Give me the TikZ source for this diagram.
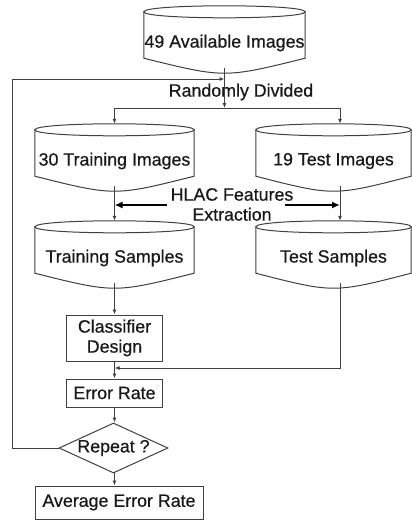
\documentclass[tikz,border=0pt]{standalone}
\usepackage{fontspec}
\setmainfont{Liberation Sans}[FakeBold=0.6]
\usetikzlibrary{calc,arrows.meta,shapes.geometric}
\newcommand\drawcyl[1]{%
  \draw[line] ($(#1.north west)+(0,-6)$) .. controls ($(#1.north west)+(0,-14)$) and ($(#1.north east)+(0,-14)$) .. ($(#1.north east)+(0,-6)$) .. controls ($(#1.north east)+(0,2)$) and ($(#1.north west)+(0,2)$) .. cycle;
  \draw[line] ($(#1.north west)+(0,-6)$) -- ($(#1.south west)+(0,-10)$) .. controls ($(#1.south)+(0,10)$) .. ($(#1.south east)+(0,-10)$) -- ($(#1.north east)+(0,-6)$);
}
\begin{document}
\begin{tikzpicture}[x=1pt,y=-1pt,
  line/.style={draw=black!75,line width=1pt},
  arr/.style={line,-{Latex[length=5pt,width=4pt]}},
  bigarr/.style={draw=black,line width=2pt,-{Latex[length=8pt,width=7pt]}},
  lbl/.style={font=\fontsize{17.8}{20}\selectfont,text=black!90,align=center,inner sep=0pt},
  cylbox/.style={lbl,minimum height=50pt},
  box/.style={lbl,draw=black!75,line width=1pt},
]
\useasboundingbox (0,0) rectangle (412,520);

% cylinder-like nodes
\node[cylbox,minimum width=161pt] (avail) at (224.5,43) {49 Available Images};
\node[cylbox,minimum width=159pt] (train) at (114.5,161) {30 Training Images};
\node[cylbox,minimum width=155pt] (test) at (333.5,161) {19 Test Images};
\node[cylbox,minimum width=159pt] (trainS) at (114.5,258) {Training\hspace{5pt}Samples};
\node[cylbox,minimum width=155pt] (testS) at (333.5,258) {Test Samples};
\drawcyl{avail}
\drawcyl{train}
\drawcyl{test}
\drawcyl{trainS}
\drawcyl{testS}

% labels
\node[lbl] (rand) at (241,92) {Randomly Divided};
\node[lbl] (hlac) at (232,204.5) {HLAC Features\\Extraction};

% boxes
\node[box,minimum width=96pt,minimum height=46pt] (cls) at (114.5,338) {Classifier\\Design};
\node[box,minimum width=96pt,minimum height=28pt] (err) at (114.5,393) {Error Rate};
\node[diamond,aspect=2.18,draw=black!75,line width=1pt,lbl,minimum width=109pt,minimum height=50pt] (rep) at (113.5,448) {Repeat ?};
\node[box,minimum width=168pt,minimum height=33pt] (avg) at (119,502.5) {Average Error Rate};

% helper coordinates
\path ($(train.north)+(0,-12)$) coordinate (trainT)
      ($(test.north)+(0,-12)$) coordinate (testT)
      ($(trainS.north)+(0,-12)$) coordinate (trainST)
      ($(testS.north)+(0,-12)$) coordinate (testST);
\coordinate (j0) at (224.5,108);
\coordinate (jl) at (114.5,108);
\coordinate (jr) at (340,108);
\coordinate (j2) at (114.5,368);
\coordinate (loopT) at (12,79);
\coordinate (hL) at (167,205);
\coordinate (hR) at (285,205);

% connectors
\draw[arr] (avail.south) -- (j0);
\draw[line] (jl) -- (jr);
\draw[arr] (jl) -- (trainT);
\draw[arr] (jr) -- (jr |- testT);
\draw[arr] (train.south) -- (trainST);
\draw[arr] (jr |- test.south) -- (jr |- testST);
\draw[arr] (trainS.south) -- (cls.north);
\draw[arr] (jr |- testS.south) |- (j2);
\draw[arr] (cls.south) -- (err.north);
\draw[arr] (err.south) -- (err.south |- rep.north);
\draw[arr] (rep.south) -- (rep.south -| err.south) -- (err.south |- avg.north);
\draw[arr] (rep.west) -| (loopT) -- (avail.south |- loopT);
\draw[bigarr] (hL) -- (train.south |- hL);
\draw[bigarr] (hR) -- (jr |- hR);
\end{tikzpicture}
\end{document}
